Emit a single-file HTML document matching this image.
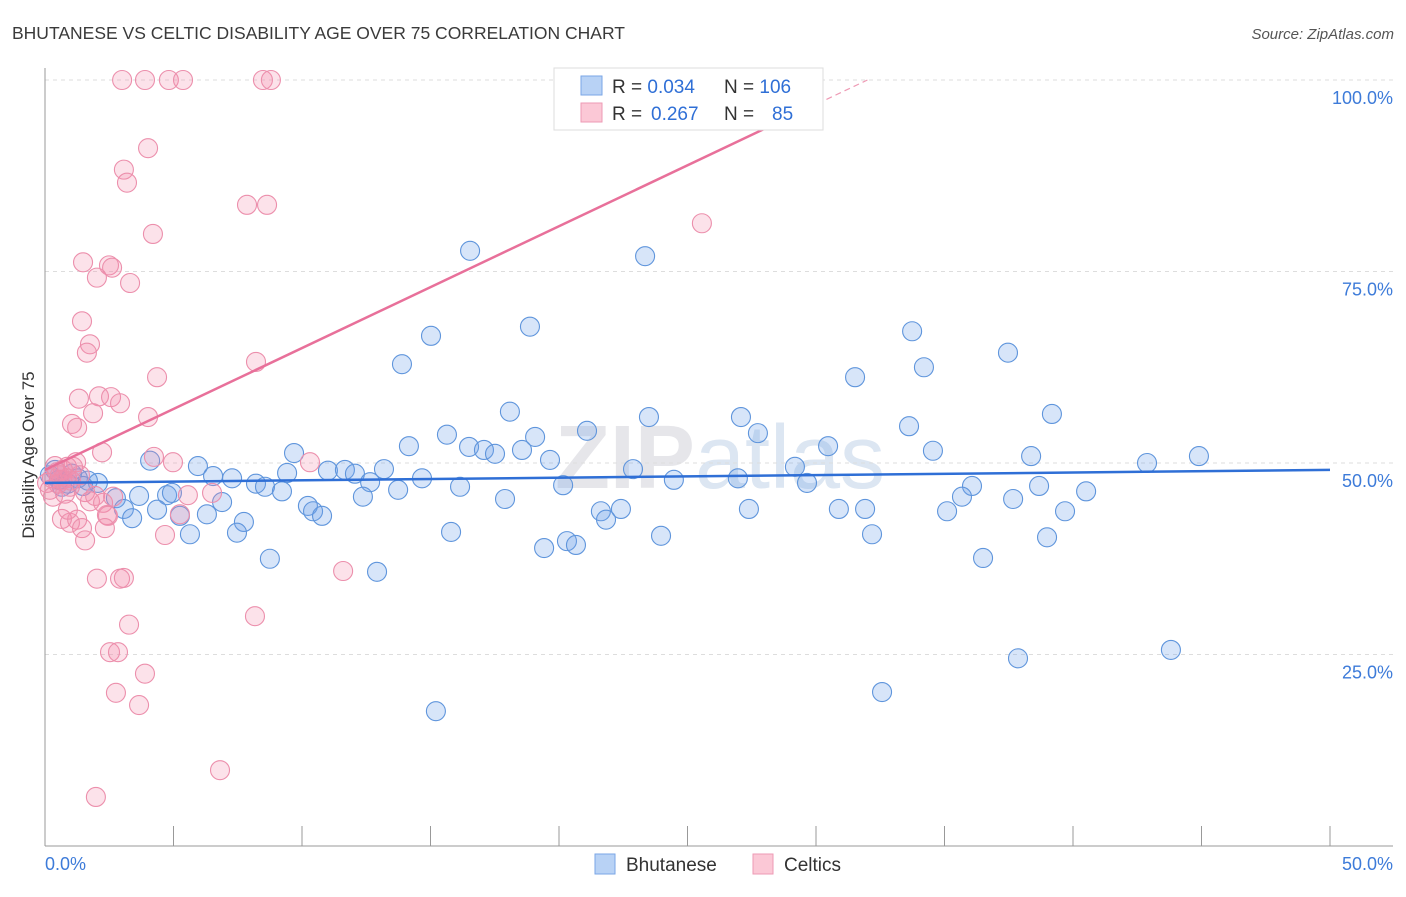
<!DOCTYPE html>
<html><head><meta charset="utf-8"><style>
body{margin:0;background:#fff;font-family:"Liberation Sans",sans-serif}
svg text{font-family:"Liberation Sans",sans-serif}
</style></head><body>
<svg id="chart" width="1406" height="892" viewBox="0 0 1406 892" xmlns="http://www.w3.org/2000/svg">
<text x="12" y="39" font-size="17.5" fill="#3a3a3a">BHUTANESE VS CELTIC DISABILITY AGE OVER 75 CORRELATION CHART</text>
<text x="1394" y="39" font-size="15" fill="#555" font-style="italic" text-anchor="end">Source: ZipAtlas.com</text>
<text x="720" y="488" font-size="90" fill="#e6e6ea" text-anchor="middle" font-family="Liberation Serif"><tspan font-weight="bold">ZIP</tspan><tspan font-family="Liberation Sans" fill="#dce6f2">atlas</tspan></text>
<g id="grid"></g>
<g id="axes"></g>
<g id="blue"></g>
<g id="pink"></g>
<g id="trends"></g>
<text transform="translate(34,455) rotate(-90)" font-size="17" fill="#333" text-anchor="middle">Disability Age Over 75</text>
<g>
<rect x="554" y="68" width="269" height="62" fill="#fff" stroke="#ddd"/>
<rect x="581" y="76" width="21" height="19" fill="#b8d2f5" stroke="#7aa6e6"/>
<rect x="581" y="103" width="21" height="19" fill="#fbc8d6" stroke="#ee9ab4"/>
<text x="612" y="93" font-size="19" fill="#333">R = <tspan fill="#2f6fd6">0.034</tspan><tspan x="724">N = </tspan><tspan fill="#2f6fd6">106</tspan></text>
<text x="612" y="120" font-size="19" fill="#333">R = <tspan x="651" fill="#2f6fd6">0.267</tspan><tspan x="724">N = </tspan><tspan x="772" fill="#2f6fd6">85</tspan></text>
</g>
<g>
<rect x="595" y="854" width="20" height="20" fill="#b8d2f5" stroke="#7aa6e6"/>
<text x="626" y="871" font-size="19" fill="#333">Bhutanese</text>
<rect x="753" y="854" width="20" height="20" fill="#fbc8d6" stroke="#ee9ab4"/>
<text x="784" y="871" font-size="19" fill="#333">Celtics</text>
</g>
</svg>
<script>
const blueX=[16.54,23.35,18.87,15.02,33.74,37.47,13.89,34.20,31.52,18.09,23.50,27.08,39.18,33.62,15.64,21.09,27.74,19.07,14.16,9.69,16.50,30.47,17.08,17.51,18.56,34.55,38.37,44.90,42.88,19.65,4.09,5.95,22.88,29.18,11.01,11.67,12.06,13.19,9.42,6.54,7.28,14.67,24.47,26.96,29.65,12.65,8.21,8.56,16.15,20.16,36.07,38.68,40.51,9.22,13.74,12.37,17.90,4.75,3.66,2.76,4.94,6.89,35.68,37.67,10.23,10.43,10.78,22.41,21.63,27.39,30.89,31.91,35.10,39.69,4.36,3.07,5.25,6.30,3.39,7.74,21.83,15.80,5.64,7.47,23.97,32.18,38.99,20.31,19.42,20.66,36.50,8.75,12.92,43.81,37.86,32.57,15.21,2.06,1.67,1.28,0.89,0.54,0.19,0.39,0.66,1.05,1.48];
const blueY=[77.7,77.0,67.8,66.6,67.2,64.4,62.9,62.5,61.2,56.7,56.0,56.0,56.4,54.8,53.7,54.2,53.9,53.4,52.2,51.3,52.1,52.2,51.7,51.2,51.7,51.6,50.9,50.9,50.0,50.4,50.3,49.6,49.2,49.5,49.0,49.1,48.6,49.2,48.7,48.3,48.0,48.0,47.8,48.0,47.4,47.5,47.3,46.9,46.9,47.1,47.0,47.0,46.3,46.3,46.5,45.6,45.3,45.8,45.7,45.4,46.1,44.9,45.6,45.3,44.4,43.7,43.1,44.0,43.7,44.0,44.0,44.0,43.7,43.7,43.9,44.0,43.1,43.3,42.8,42.3,42.6,41.0,40.7,40.9,40.5,40.7,40.3,39.8,38.9,39.3,37.6,37.5,35.8,25.6,24.5,20.1,17.6,47.4,47.7,48.0,47.3,47.8,48.4,49.1,46.9,48.6,47.0];
const pinkX=[3.00,3.89,4.82,5.37,8.48,8.79,4.01,3.07,3.19,7.86,8.64,4.20,25.56,1.48,2.49,2.02,3.31,2.61,1.44,1.75,1.63,4.36,8.21,1.32,2.10,2.57,2.92,1.87,4.01,1.05,1.25,4.24,2.22,4.98,10.31,0.86,1.21,0.47,0.66,0.97,0.19,0.31,0.78,1.56,1.75,1.95,5.56,6.50,2.65,2.26,2.45,2.41,0.66,0.97,1.25,1.44,2.33,4.67,1.56,5.25,0.89,2.02,2.92,3.07,11.60,3.27,8.17,2.53,2.84,3.89,2.76,3.66,6.81,1.98,0.27,0.51,0.08,0.39,0.70,1.09,1.36,0.86,0.58,1.01];
const pinkY=[100,100,100,100,100,100,91.1,88.3,86.6,83.7,83.7,79.9,81.3,76.2,75.8,74.2,73.5,75.5,68.5,65.5,64.4,61.2,63.2,58.4,58.7,58.6,57.8,56.5,56.0,55.1,54.6,50.8,51.4,50.1,50.1,49.5,50.1,48.8,47.8,46.9,46.5,45.6,46.0,46.2,45.0,45.7,45.8,46.1,45.6,44.8,43.1,43.2,42.7,42.2,42.6,41.5,41.5,40.6,39.9,43.3,43.9,34.9,34.9,35.0,35.9,28.9,30.0,25.3,25.3,22.5,20.0,18.4,9.9,6.4,48.0,47.3,47.4,49.6,49.1,49.5,48.4,48.0,48.4,47.7];
const yTicks=[25,50,75,100];
const yTickLabels=["25.0%","50.0%","75.0%","100.0%"];
const blueTrend=[47.4,49.1]; // y at x=0 and x=50
const pinkTrend=[49.1,100,32.0]; // y at 0, y at x end, x end
const pinkSolidEnd=29.0;
const X0=45,X1=1330,Y0=846,Y100=80;
const sx=v=>X0+(v/50)*(X1-X0);
const sy=v=>Y0-(v/100)*(Y0-Y100);
const NS="http://www.w3.org/2000/svg";
function mk(tag,attrs,parent){const e=document.createElementNS(NS,tag);for(const k in attrs)e.setAttribute(k,attrs[k]);parent.appendChild(e);return e;}
const grid=document.getElementById('grid'),axes=document.getElementById('axes');
yTicks.forEach((t,i)=>{
 const l=mk('line',{x1:X0,x2:1393,y1:sy(t),y2:sy(t),stroke:'#ddd','stroke-dasharray':'4,4'},grid);
 
 
 const tx=mk('text',{x:1393,y:sy(t)+24,'font-size':18,fill:'#3d7bd9','text-anchor':'end'},axes);
 tx.textContent=yTickLabels[i];
 
 
});
mk('line',{x1:X0,x2:X0,y1:68,y2:Y0,stroke:'#999'},axes);
mk('line',{x1:X0,x2:1393,y1:Y0,y2:Y0,stroke:'#999'},axes);
for(let i=0;i<=10;i++){
 const t=mk('line',{x1:sx(i*5),x2:sx(i*5),y1:826,y2:Y0,stroke:'#999'},axes);
 
 
}
const xl=mk('text',{x:45,y:870,'font-size':18,fill:'#3d7bd9'},axes);xl.textContent='0.0%';


const xr=mk('text',{x:1393,y:870,'font-size':18,fill:'#3d7bd9','text-anchor':'end'},axes);xr.textContent='50.0%';


const bg=document.getElementById('blue'),pg=document.getElementById('pink');
blueX.forEach((x,i)=>{const c=mk('circle',{cx:sx(x),cy:sy(blueY[i]),r:9.5,fill:'rgba(110,160,235,0.28)',stroke:'#5f95dc','stroke-width':1.1},bg);
 
 });
pinkX.forEach((x,i)=>{const c=mk('circle',{cx:sx(x),cy:sy(pinkY[i]),r:9.5,fill:'rgba(245,140,170,0.25)',stroke:'#ec8fac','stroke-width':1.1},pg);
 
 });
const tg=document.getElementById('trends');
const bt=mk('line',{x1:sx(0),y1:sy(blueTrend[0]),x2:sx(50),y2:sy(blueTrend[1]),stroke:'#2f6fd6','stroke-width':2.5},tg);


const pf=x=>pinkTrend[0]+(pinkTrend[1]-pinkTrend[0])*x/pinkTrend[2];
const pt=mk('line',{x1:sx(0),y1:sy(pf(0)),x2:sx(pinkSolidEnd),y2:sy(pf(pinkSolidEnd)),stroke:'#e8709a','stroke-width':2.5},tg);


const pd=mk('line',{x1:sx(pinkSolidEnd),y1:sy(pf(pinkSolidEnd)),x2:sx(pinkTrend[2]),y2:sy(pinkTrend[1]),stroke:'#ee9ab4','stroke-width':1.2,'stroke-dasharray':'6,4'},tg);


</script>
</body></html>
